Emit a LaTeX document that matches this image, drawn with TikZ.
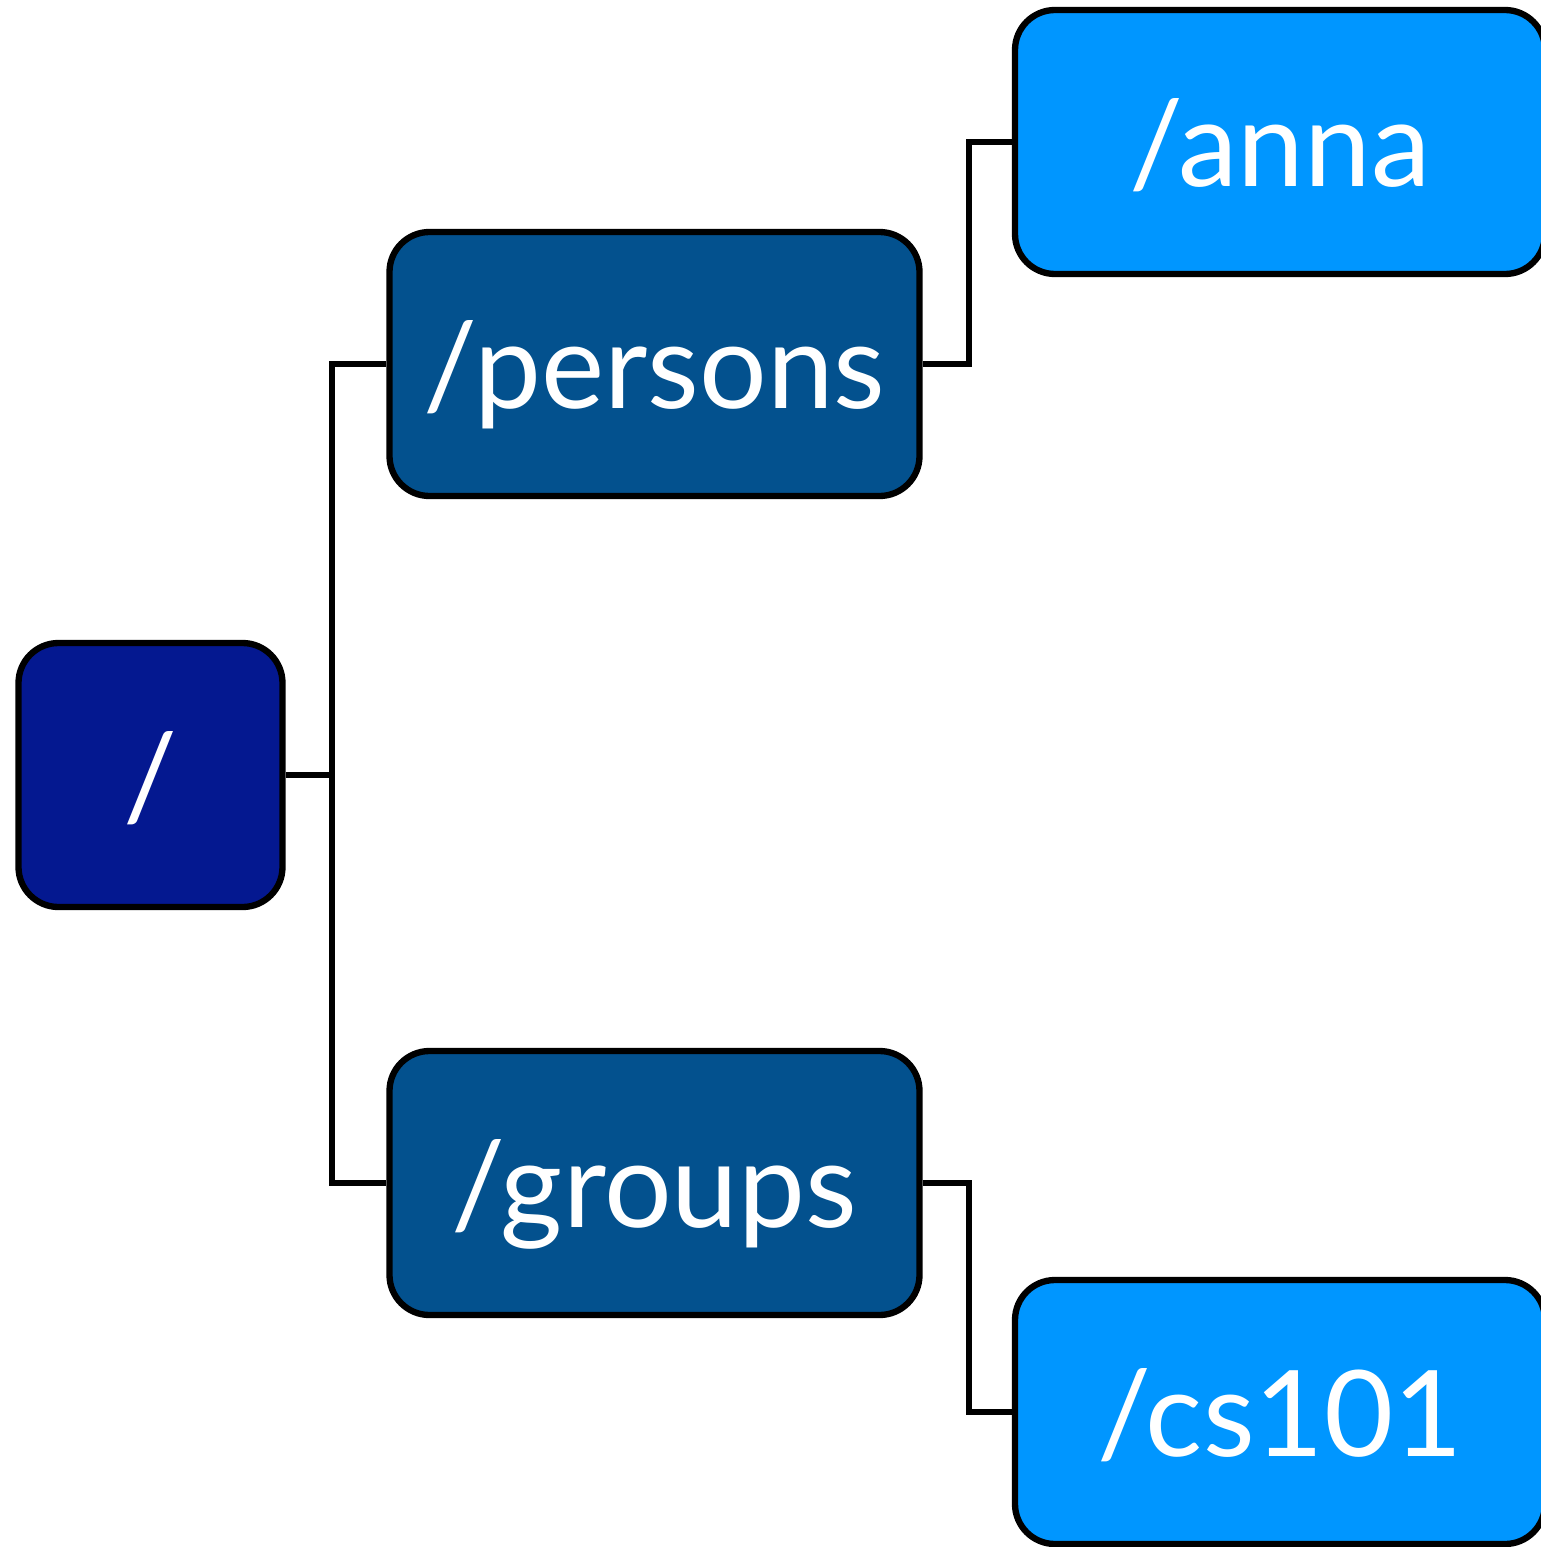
\documentclass[tikz,border=0pt]{standalone}
\usepackage{fontspec}
\setmainfont{Lato}
\definecolor{rootblue}{HTML}{041890}
\definecolor{midblue}{HTML}{03518E}
\definecolor{leafblue}{HTML}{0096FF}
\tikzset{
  dirbox/.style={draw=black, line width=1.8pt, rounded corners=0.4cm, text=white,
    font=\fontsize{34}{38}\selectfont, minimum width=5.3cm, minimum height=2.64cm,
    inner sep=0pt, text height=0.88cm, text depth=0cm},
  link/.style={line width=1.8pt}
}
\begin{document}
\begin{tikzpicture}
\useasboundingbox (0,0) rectangle (15.4,-15.47);
%\draw[help lines, color=gray!30, dashed] (0,-15.47) grid (15.4,0);
\node[dirbox, fill=rootblue, minimum width=2.64cm] (root) at (1.505,-7.75) {/};
\node[dirbox, fill=midblue] (persons) at (6.545,-3.64) {/persons};
\node[dirbox, fill=midblue] (groups) at (6.545,-11.83) {/groups};
\node[dirbox, fill=leafblue] (anna) at (12.8,-1.42) {/anna};
\node[dirbox, fill=leafblue] (cs) at (12.8,-14.12) {/cs101};
\coordinate (fork) at (3.32,-7.75);
\draw[link] (root.east) -- (fork) |- (persons.west);
\draw[link] (fork) |- (groups.west);
\draw[link] (persons.east) -- ++(0.46,0) |- (anna.west);
\draw[link] (groups.east) -- ++(0.46,0) |- (cs.west);
\end{tikzpicture}
\end{document}
